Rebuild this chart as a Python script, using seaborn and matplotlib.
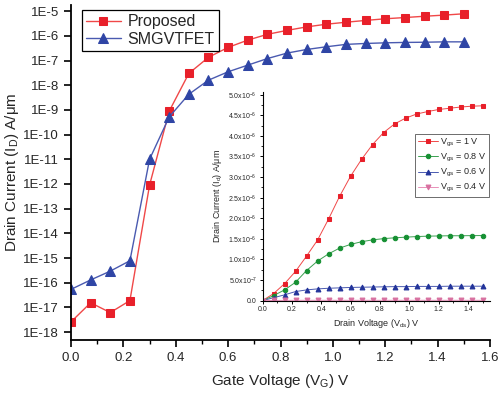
import numpy as np
import pandas as pd
import seaborn as sns
import matplotlib.pyplot as plt
from matplotlib.ticker import MultipleLocator, FixedLocator, FuncFormatter

# main plot: transfer characteristics (log scale)
vg = [0.0, 0.075, 0.15, 0.225, 0.3, 0.375, 0.45, 0.525, 0.6, 0.675, 0.75,
      0.825, 0.9, 0.975, 1.05, 1.125, 1.2, 1.275, 1.35, 1.425, 1.5]
proposed = [2.6e-18, 1.55e-17, 6.2e-18, 1.9e-17, 9e-13, 8.9e-10, 3.0e-8, 1.35e-7,
            3.4e-7, 6.7e-7, 1.15e-6, 1.66e-6, 2.3e-6, 2.95e-6, 3.55e-6, 4.2e-6,
            4.9e-6, 5.5e-6, 6.2e-6, 6.9e-6, 7.8e-6]
smgvtfet = [5.4e-17, 1.3e-16, 2.96e-16, 7.8e-16, 1.0e-11, 5.2e-10, 4.3e-9, 1.6e-8,
            3.5e-8, 6.5e-8, 1.2e-7, 2.0e-7, 2.8e-7, 3.6e-7, 4.5e-7, 4.9e-7,
            5.2e-7, 5.4e-7, 5.5e-7, 5.7e-7, 5.7e-7]

# inset: output characteristics (A/um, in units of 1e-6)
vds = vg
id_10 = [0.0, 0.17, 0.41, 0.71, 1.08, 1.47, 1.98, 2.53, 3.02, 3.43, 3.79, 4.08,
         4.29, 4.43, 4.53, 4.59, 4.64, 4.67, 4.70, 4.72, 4.73]
id_08 = [0.0, 0.12, 0.26, 0.445, 0.73, 0.96, 1.135, 1.275, 1.365, 1.43, 1.475,
         1.505, 1.525, 1.54, 1.555, 1.565, 1.57, 1.575, 1.575, 1.578, 1.58]
id_06 = [0.0, 0.07, 0.14, 0.22, 0.26, 0.285, 0.30, 0.31, 0.32, 0.325, 0.33,
         0.335, 0.34, 0.34, 0.345, 0.345, 0.345, 0.35, 0.35, 0.35, 0.35]
id_04 = [0.0, 0.004, 0.006, 0.007, 0.008, 0.008, 0.008, 0.008, 0.008, 0.008,
         0.008, 0.008, 0.008, 0.008, 0.008, 0.008, 0.008, 0.008, 0.008, 0.008, 0.008]
inset_labels = ['$V_{gs}$ = 1 V', '$V_{gs}$ = 0.8 V', '$V_{gs}$ = 0.6 V', '$V_{gs}$ = 0.4 V']

sns.set_style('ticks')
plt.rcParams['font.family'] = ['Liberation Sans', 'DejaVu Sans']
plt.rcParams['mathtext.fontset'] = 'custom'
plt.rcParams['mathtext.rm'] = 'Liberation Sans'
plt.rcParams['mathtext.it'] = 'Liberation Sans'

fig = plt.figure(figsize=(5, 3.94), dpi=100)
ax = fig.add_axes([0.142, 0.137, 0.838, 0.850])

df = pd.DataFrame({'vg': vg, 'Proposed': proposed, 'SMGVTFET': smgvtfet})
sns.lineplot(data=df, x='vg', y='Proposed', ax=ax, color='#f04848', lw=1.0,
             marker='s', markersize=5.8, markerfacecolor='#e8202a',
             markeredgecolor='#e8202a', label='Proposed')
sns.lineplot(data=df, x='vg', y='SMGVTFET', ax=ax, color='#4a5ab0', lw=1.0,
             marker='^', markersize=6.8, markerfacecolor='#2f45a5',
             markeredgecolor='#2f45a5', label='SMGVTFET')

ax.set_yscale('log')
ax.set_xlim(0, 1.6)
ax.set_ylim(4.8e-19, 1.75e-5)
ax.yaxis.set_major_locator(FixedLocator([10.0 ** e for e in range(-18, -4)]))
ax.yaxis.set_minor_locator(FixedLocator([]))
ax.yaxis.set_major_formatter(FuncFormatter(lambda v, p: '1E%d' % round(np.log10(v))))
ax.xaxis.set_major_locator(MultipleLocator(0.2))
ax.xaxis.set_minor_locator(MultipleLocator(0.1))
ax.xaxis.set_major_formatter(FuncFormatter(lambda v, p: '%.1f' % v))
ax.tick_params(axis='both', which='major', labelsize=9.5, length=5, width=1.2, direction='out', color='black')
ax.tick_params(axis='both', which='minor', length=3, width=1.0, direction='out', color='black')
for s in ['left', 'bottom']:
    ax.spines[s].set_linewidth(1.3)
    ax.spines[s].set_color('black')
sns.despine(ax=ax)
ax.set_xlabel('Gate Voltage (V$_G$) V', fontsize=11, labelpad=6)
ax.set_ylabel('Drain Current (I$_D$) A/μm', fontsize=11, labelpad=2)

leg = ax.legend(loc='upper left', bbox_to_anchor=(0.026, 0.985), borderaxespad=0,
                fontsize=11.5, fancybox=False, edgecolor='black', framealpha=1,
                handlelength=2.2, handletextpad=0.4, borderpad=0.25, labelspacing=0.15)
leg.get_frame().set_linewidth(0.9)

# inset
ins = fig.add_axes([0.525, 0.237, 0.455, 0.529])
scale = 1e-6
ins_styles = [('#f04848', '#e8202a', 's', 3.0), ('#3aa050', '#169033', 'o', 3.2),
              ('#4a5ab0', '#22339a', '^', 3.5), ('#e890b8', '#d870a0', 'v', 3.5)]
for vals, lab, (lc, mc, mk, ms) in zip([id_10, id_08, id_06, id_04], inset_labels, ins_styles):
    sns.lineplot(x=vds, y=np.array(vals) * scale, ax=ins, color=lc, lw=0.7,
                 marker=mk, markersize=ms, markerfacecolor=mc, markeredgecolor=mc,
                 label=lab)

ins.set_xlim(0, 1.55)
ins.set_ylim(0, 5.06e-6)
ins.xaxis.set_major_locator(MultipleLocator(0.2))
ins.xaxis.set_minor_locator(MultipleLocator(0.1))
ins.xaxis.set_major_formatter(FuncFormatter(lambda v, p: '%.1f' % v))
ins.yaxis.set_major_locator(MultipleLocator(0.5e-6))
ins.yaxis.set_minor_locator(MultipleLocator(0.25e-6))


def inset_fmt(v, p):
    if abs(v) < 1e-12:
        return '0.0'
    e = int(np.floor(np.log10(abs(v)) + 1e-9))
    return '%.1fx10$^{%d}$' % (v / 10 ** e, e)


ins.yaxis.set_major_formatter(FuncFormatter(inset_fmt))
ins.tick_params(axis='both', which='major', labelsize=5, length=2.5, width=0.7, pad=1.5, direction='out', color='black')
ins.tick_params(axis='both', which='minor', length=1.5, width=0.6, direction='out', color='black')
for s in ['left', 'bottom']:
    ins.spines[s].set_linewidth(0.8)
    ins.spines[s].set_color('black')
sns.despine(ax=ins)
ins.patch.set_alpha(0)
ins.set_xlabel('Drain Voltage (V$_{ds}$) V', fontsize=6.5, labelpad=3)
ins.set_ylabel('Drain Current (I$_d$) A/μm', fontsize=6.5, labelpad=3)
ileg = ins.legend(loc='upper right', bbox_to_anchor=(0.996, 0.80), borderaxespad=0,
                  fontsize=6.5, fancybox=False, edgecolor='#555555', framealpha=1,
                  handlelength=2.2, handletextpad=0.3, borderpad=0.3, labelspacing=0.35)
ileg.get_frame().set_linewidth(0.6)

fig.savefig('out.png', dpi=100)
